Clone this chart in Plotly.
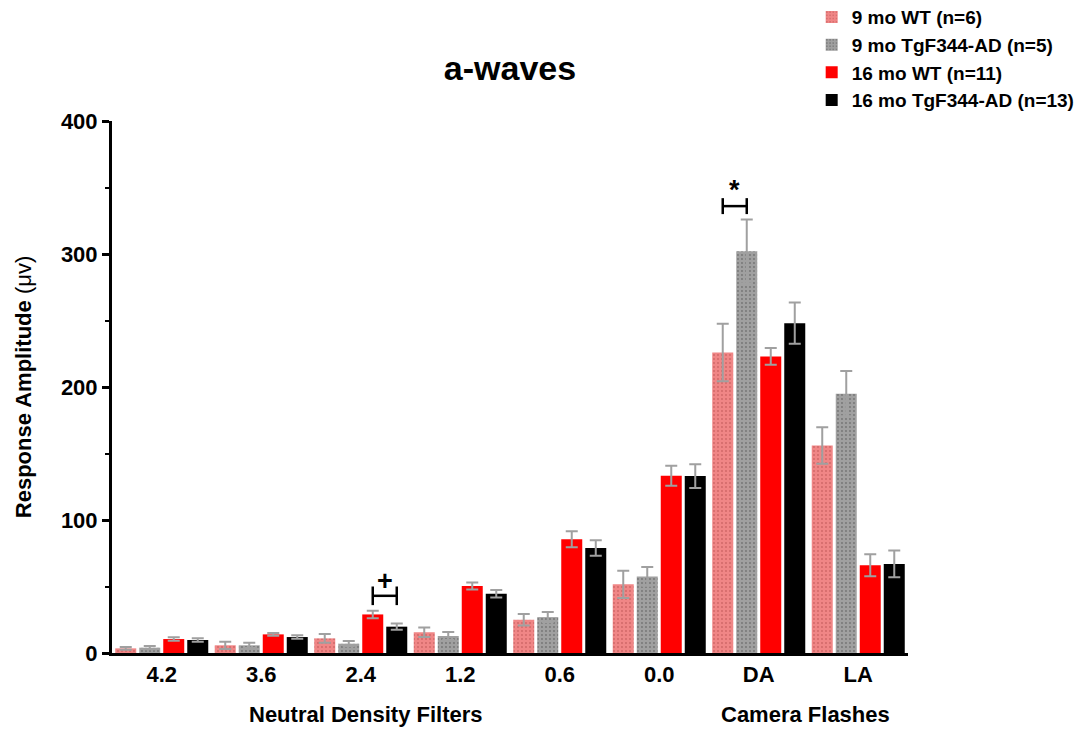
import plotly.graph_objects as go

categories = ["4.2", "3.6", "2.4", "1.2", "0.6", "0.0", "DA", "LA"]

series_names = ["9 mo WT (n=6)", "9 mo TgF344-AD (n=5)", "16 mo WT (n=11)", "16 mo TgF344-AD (n=13)"]

wt9 = [3.5, 5.8, 11, 15.6, 25, 51.6, 226, 156]
wt9_err = [1.0, 2.7, 3.3, 3.5, 4.3, 10.3, 21.6, 13.8]

tg9 = [4, 5.8, 7, 12.8, 27, 57.6, 302, 195]
tg9_err = [1.2, 2.0, 2.0, 3.0, 3.8, 7.0, 24, 17]

wt16 = [10.5, 14, 29, 50.4, 85.5, 133.3, 223, 66]
wt16_err = [1.3, 1.0, 2.8, 2.7, 6.0, 7.5, 6.3, 8.3]

tg16 = [9.8, 12, 19.8, 44.6, 79, 133, 248, 67]
tg16_err = [1.3, 1.3, 2.3, 2.8, 5.8, 9.0, 15.5, 10]

FONT = "Liberation Sans, Arial, Helvetica, sans-serif"
ERR_COLOR = "#a0a0a0"

styles = [
    dict(color="#f08686", pattern=dict(shape=".", fgcolor="#b04848", bgcolor="#f08686", size=4, solidity=0.18, fillmode="overlay")),
    dict(color="#a0a0a0", pattern=dict(shape=".", fgcolor="#4a4a4a", bgcolor="#a0a0a0", size=4, solidity=0.18, fillmode="overlay")),
    dict(color="#ff0000"),
    dict(color="#000000"),
]

fig = go.Figure()
for name, vals, errs, st in zip(series_names, [wt9, tg9, wt16, tg16],
                                [wt9_err, tg9_err, wt16_err, tg16_err], styles):
    fig.add_trace(go.Bar(
        x=categories, y=vals, name=name,
        marker=dict(line=dict(width=0), **st),
        error_y=dict(type="data", array=errs, visible=True, color=ERR_COLOR, thickness=2, width=6),
    ))

bargap = 0.035
slot = (1 - bargap) / 4

def bar_center(cat_idx, series_idx):
    return cat_idx + (series_idx - 1.5) * slot

shapes = []
def bracket(i, s_a, s_b, y, h):
    xa, xb = bar_center(i, s_a), bar_center(i, s_b)
    line = dict(color="black", width=2.5)
    shapes.append(dict(type="line", xref="x", yref="y", x0=xa, x1=xb, y0=y, y1=y, line=line))
    shapes.append(dict(type="line", xref="x", yref="y", x0=xa, x1=xa, y0=y - h, y1=y + h, line=line))
    shapes.append(dict(type="line", xref="x", yref="y", x0=xb, x1=xb, y0=y - h, y1=y + h, line=line))

bracket(2, 2, 3, 43, 7)
bracket(6, 0, 1, 336, 6)

fig.update_layout(
    width=1086, height=729,
    margin=dict(l=112, r=178, t=121, b=76, autoexpand=False),
    paper_bgcolor="white", plot_bgcolor="white",
    barmode="group", bargap=bargap, bargroupgap=0.125,
    font=dict(family=FONT, color="black"),
    title=dict(text="<b>a-waves</b>", x=0.4696, xanchor="center", y=0.907, yanchor="middle",
               font=dict(size=34, family=FONT, color="black")),
    shapes=shapes,
    legend=dict(x=0.879, y=1.231, xanchor="left", yanchor="top",
                font=dict(size=19, family=FONT, color="black", weight="bold"),
                bgcolor="rgba(0,0,0,0)", traceorder="normal"),
    annotations=[
        dict(text="<b>+</b>", x=bar_center(2, 2.5), y=54, xref="x", yref="y", showarrow=False,
             font=dict(size=27, family=FONT, color="black")),
        dict(text="<b>*</b>", x=bar_center(6, 0.5), y=348, xref="x", yref="y", showarrow=False,
             font=dict(size=27, family=FONT, color="black")),
        dict(text="<b>Neutral Density Filters</b>", x=0.319, y=-0.1165, xref="paper", yref="paper",
             xanchor="center", yanchor="middle",
             showarrow=False, font=dict(size=22, family=FONT, color="black")),
        dict(text="<b>Camera Flashes</b>", x=0.871, y=-0.1165, xref="paper", yref="paper",
             xanchor="center", yanchor="middle",
             showarrow=False, font=dict(size=22, family=FONT, color="black")),
    ],
    xaxis=dict(type="category", range=[-0.5, 7.5], showline=True, linecolor="black", linewidth=3,
               ticks="", showgrid=False, zeroline=False,
               tickvals=categories, ticktext=["<b>%s</b>" % c for c in categories],
               tickfont=dict(size=22, family=FONT, color="black")),
    yaxis=dict(range=[0, 400], showline=True, linecolor="black", linewidth=3,
               ticks="outside", ticklen=7, tickwidth=2.5, tickcolor="black",
               tickvals=[0, 100, 200, 300, 400], ticktext=["<b>0</b>", "<b>100</b>", "<b>200</b>", "<b>300</b>", "<b>400</b>"],
               minor=dict(tickvals=[50, 150, 250, 350], ticks="outside", ticklen=4, tickwidth=2, tickcolor="black"),
               showgrid=False, zeroline=False,
               tickfont=dict(size=22, family=FONT, color="black"),
               title=dict(text="<b>Response Amplitude</b> (μv)", standoff=24,
                          font=dict(size=22, family=FONT, color="black"))),
)

fig.write_html("out.html")
